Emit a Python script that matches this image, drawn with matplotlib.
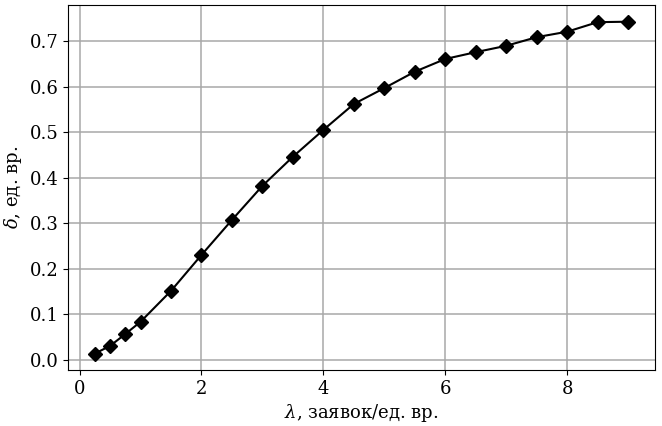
import matplotlib
matplotlib.use("Agg")
import matplotlib.pyplot as plt

# interarrival intensity and share of lost requests
lam = [0.25, 0.5, 0.75, 1.0, 1.5, 2.0, 2.5, 3.0, 3.5, 4.0,
       4.5, 5.0, 5.5, 6.0, 6.5, 7.0, 7.5, 8.0, 8.5, 9.0]
delta = [0.013, 0.030, 0.056, 0.083, 0.151, 0.230, 0.307, 0.382, 0.446, 0.505,
         0.562, 0.597, 0.633, 0.661, 0.676, 0.690, 0.709, 0.721, 0.742, 0.743]

plt.rcParams['font.family'] = ['DejaVu Serif']
plt.rcParams['mathtext.fontset'] = 'dejavuserif'
plt.rcParams['font.size'] = 13

fig, ax = plt.subplots(figsize=(6.62, 4.26), dpi=100)
fig.subplots_adjust(left=0.103, right=0.989, top=0.988, bottom=0.131)

ax.plot(lam, delta, color='black', marker='D', markersize=7.5, linewidth=1.5)
ax.grid(True, color='#a8a8a8', linewidth=1.1)
ax.set_xlabel(r'$\lambda$, заявок/ед. вр.', labelpad=3)
ax.set_ylabel(r'$\delta$, ед. вр.')

fig.savefig('out.png', dpi=100)
